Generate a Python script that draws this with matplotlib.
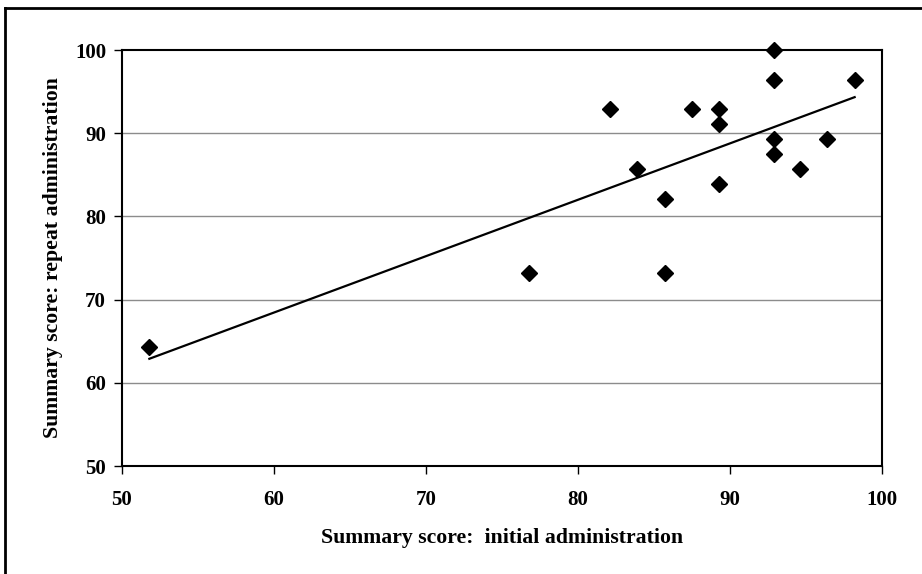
import numpy as np
import matplotlib
matplotlib.use("Agg")
import matplotlib.pyplot as plt
from matplotlib.lines import Line2D

# summary scores (percent)
initial_scores = [51.8, 76.8, 82.1, 83.9, 85.7, 85.7, 87.5, 89.3, 89.3, 89.3,
                  92.9, 92.9, 92.9, 92.9, 94.6, 96.4, 98.2]
repeat_scores = [64.3, 73.2, 92.9, 85.7, 82.1, 73.2, 92.9, 92.9, 91.1, 83.9,
                 100.0, 96.4, 89.3, 87.5, 85.7, 89.3, 96.4]
x_ticks = [50, 60, 70, 80, 90, 100]
y_ticks = [50, 60, 70, 80, 90, 100]

plt.rcParams["font.family"] = ["Liberation Serif", "DejaVu Serif"]
plt.rcParams["font.weight"] = "bold"

fig = plt.figure(figsize=(9.22, 5.74), dpi=100)
ax = fig.add_axes([122 / 922, 1 - 466 / 574, 760 / 922, 416 / 574])

x = np.array(initial_scores)
y = np.array(repeat_scores)

# least-squares trend line over the observed range
slope, intercept = np.polyfit(x, y, 1)
xs = np.array([x.min(), x.max()])

for gy in y_ticks[1:-1]:
    ax.axhline(gy, color="#8c8c8c", linewidth=1.0, zorder=1)

ax.plot(xs, slope * xs + intercept, color="black", linewidth=1.6, zorder=2)
ax.plot(x, y, linestyle="none", marker="D", markersize=8.5,
        color="black", clip_on=False, zorder=3)

ax.set_xlim(50, 100)
ax.set_ylim(50, 100)
ax.set_xticks(x_ticks)
ax.set_yticks(y_ticks)
ax.tick_params(direction="out", length=6, width=1, labelsize=15)
ax.tick_params(axis="x", pad=11.5)
ax.tick_params(axis="y", pad=5.5)
for lab in ax.get_xticklabels() + ax.get_yticklabels():
    lab.set_fontweight("bold")
for sp in ax.spines.values():
    sp.set_linewidth(1.5)

ax.set_xlabel("Summary score:  initial administration", fontsize=15.7,
              fontweight="bold", labelpad=12.5)
ax.set_ylabel("Summary score: repeat administration", fontsize=15.7,
              fontweight="bold", labelpad=8.5)

# outer frame (only top and left edges fall inside the image)
fig.add_artist(Line2D([4.5 / 922, 4.5 / 922], [0, 1 - 7.5 / 574],
                      transform=fig.transFigure, color="black", linewidth=2))
fig.add_artist(Line2D([4.5 / 922, 1], [1 - 7.5 / 574, 1 - 7.5 / 574],
                      transform=fig.transFigure, color="black", linewidth=2))

fig.savefig("out.png", dpi=100)
